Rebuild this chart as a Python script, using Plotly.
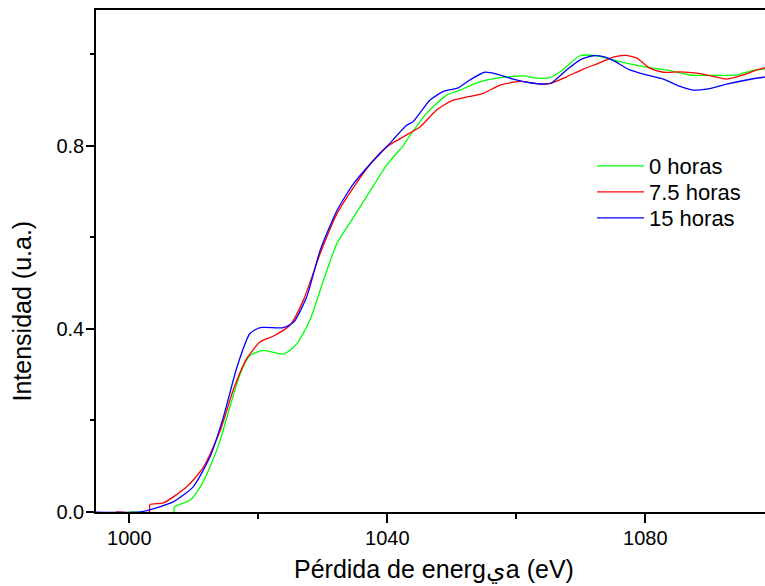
import plotly.graph_objects as go

# ---- data ----
energy_0h = [1000.0, 1006.9, 1007.0, 1009.4, 1011.0, 1012.5, 1014.1, 1015.6, 1017.2, 1018.7,
             1020.8, 1023.9, 1026.0, 1028.0, 1030.1, 1032.2, 1034.8, 1037.4, 1039.9, 1042.5,
             1043.0, 1046.1, 1049.2, 1051.3, 1053.9, 1057.0, 1061.1, 1063.2, 1065.2, 1066.8,
             1069.9, 1072.5, 1076.1, 1080.2, 1083.3, 1086.9, 1090.5, 1094.2, 1096.7, 1098.3, 1100.0]
int_0h = [0.0, 0.0, 0.011, 0.0255, 0.055, 0.098, 0.157, 0.23, 0.302, 0.342,
          0.353, 0.345, 0.368, 0.419, 0.506, 0.587, 0.645, 0.703, 0.758, 0.801,
          0.812, 0.871, 0.911, 0.922, 0.938, 0.948, 0.953, 0.948, 0.949, 0.962,
          0.997, 0.997, 0.984, 0.972, 0.966, 0.955, 0.954, 0.955, 0.965, 0.968, 0.970]

energy_7h = [998.0, 1003.1, 1003.2, 1005.3, 1008.9, 1011.5, 1014.1, 1016.1, 1018.2, 1020.3,
             1022.3, 1024.9, 1027.0, 1029.6, 1032.2, 1034.8, 1037.4, 1039.9, 1042.5, 1045.1,
             1047.7, 1050.2, 1052.8, 1054.9, 1057.5, 1060.6, 1063.2, 1065.2, 1067.8, 1070.4,
             1073.0, 1075.0, 1076.9, 1078.7, 1080.7, 1082.8, 1085.4, 1088.0, 1090.5, 1092.6,
             1095.2, 1097.3, 1098.3, 1100.0]
int_7h = [0.0, 0.0, 0.016, 0.02, 0.055, 0.098, 0.178, 0.266, 0.335, 0.372,
          0.384, 0.408, 0.463, 0.565, 0.652, 0.71, 0.761, 0.798, 0.82, 0.842,
          0.879, 0.9, 0.908, 0.915, 0.933, 0.941, 0.936, 0.936, 0.951, 0.968,
          0.982, 0.994, 0.998, 0.992, 0.97, 0.961, 0.962, 0.959, 0.952, 0.946,
          0.955, 0.966, 0.970, 0.972]

energy_15h = [994.0, 1001.7, 1003.7, 1006.8, 1009.9, 1012.5, 1014.6, 1016.7, 1018.7, 1020.3,
              1023.9, 1025.5, 1027.5, 1029.6, 1032.2, 1034.8, 1037.4, 1039.9, 1043.0, 1044.0,
              1046.6, 1048.7, 1051.0, 1052.8, 1055.1, 1057.0, 1059.5, 1062.1, 1064.2, 1065.5,
              1067.8, 1069.9, 1071.9, 1073.5, 1075.0, 1077.6, 1080.2, 1082.8, 1085.4, 1087.4,
              1089.5, 1092.6, 1095.7, 1098.3, 1100.0]
int_15h = [0.0, 0.0, 0.007, 0.022, 0.055, 0.12, 0.208, 0.317, 0.39, 0.403,
           0.403, 0.415, 0.47, 0.572, 0.659, 0.718, 0.761, 0.798, 0.845, 0.853,
           0.9, 0.919, 0.927, 0.944, 0.961, 0.957, 0.946, 0.938, 0.935, 0.938,
           0.966, 0.988, 0.997, 0.995, 0.987, 0.966, 0.955, 0.946, 0.93, 0.922,
           0.924, 0.935, 0.944, 0.95, 0.952]

series_names = ["0 horas", "7.5 horas", "15 horas"]
series_colors = ["#00FF00", "#FF0000", "#0000FF"]

x_tick_vals = [1000, 1040, 1080]
y_tick_vals = [0.0, 0.4, 0.8]
y_tick_text = ["0.0", "0.4", "0.8"]

x_title = "Pérdida de energ\u064Aa (eV)"
y_title = "Intensidad (u.a.)"

FONT = "Liberation Sans, Arial, sans-serif"

W, H = 765, 586
ml, mt, mr, mb = 96, 10, 0, 74
pw = W - ml - mr
ph = H - mt - mb

legend_ids = ["legend", "legend2", "legend3"]
legend_tops = [145, 171, 197]

fig = go.Figure()
for xs, ys, name, col, lid in zip([energy_0h, energy_7h, energy_15h],
                                  [int_0h, int_7h, int_15h],
                                  series_names, series_colors, legend_ids):
    fig.add_trace(go.Scatter(x=xs, y=ys, mode="lines", name=name, legend=lid,
                             line=dict(color=col, width=1.3, shape="spline", smoothing=0.6)))

legend_common = dict(xanchor="left", yanchor="top", bgcolor="rgba(0,0,0,0)", borderwidth=0,
                     itemwidth=47, font=dict(family=FONT, size=22, color="black"))
legend_layout = {}
for lid, top in zip(legend_ids, legend_tops):
    legend_layout[lid] = dict(x=(592 - ml) / pw, y=(512 - top) / ph, **legend_common)

fig.update_layout(
    width=W, height=H,
    margin=dict(l=ml, r=mr, t=mt, b=mb, pad=0),
    paper_bgcolor="white", plot_bgcolor="white",
    font=dict(family=FONT, color="black", size=20),
    showlegend=True,
    **legend_layout,
    xaxis=dict(range=[994.84, 1098.56], showgrid=False, zeroline=False, layer="below traces",
               showline=True, linecolor="black", linewidth=1.5, mirror=True,
               ticks="outside", ticklen=9, tickwidth=1.5, tickcolor="black",
               tickvals=x_tick_vals, ticklabelstandoff=-2,
               tickfont=dict(family=FONT, size=20, color="black"),
               minor=dict(dtick=20, tick0=1000, ticks="outside", ticklen=5,
                          tickwidth=1.5, tickcolor="black", showgrid=False)),
    yaxis=dict(range=[0, 1.097], showgrid=False, zeroline=False, layer="below traces",
               showline=True, linecolor="black", linewidth=1.5, mirror=False,
               ticks="outside", ticklen=8, tickwidth=1.5, tickcolor="black",
               tickvals=y_tick_vals, ticktext=y_tick_text, ticklabelstandoff=-2,
               tickfont=dict(family=FONT, size=20, color="black"),
               minor=dict(dtick=0.2, tick0=0, ticks="outside", ticklen=4,
                          tickwidth=1.5, tickcolor="black", showgrid=False)),
)

fig.add_annotation(text=x_title, xref="paper", yref="paper",
                   x=(434 - ml) / pw, y=(512 - 569) / ph,
                   xanchor="center", yanchor="middle", showarrow=False,
                   font=dict(family=FONT, size=25, color="black"))
fig.add_annotation(text=y_title, xref="paper", yref="paper",
                   x=(21.5 - ml) / pw, y=(512 - 311) / ph,
                   xanchor="center", yanchor="middle", showarrow=False, textangle=-90,
                   font=dict(family=FONT, size=25, color="black"))

fig.write_html("out.html")
